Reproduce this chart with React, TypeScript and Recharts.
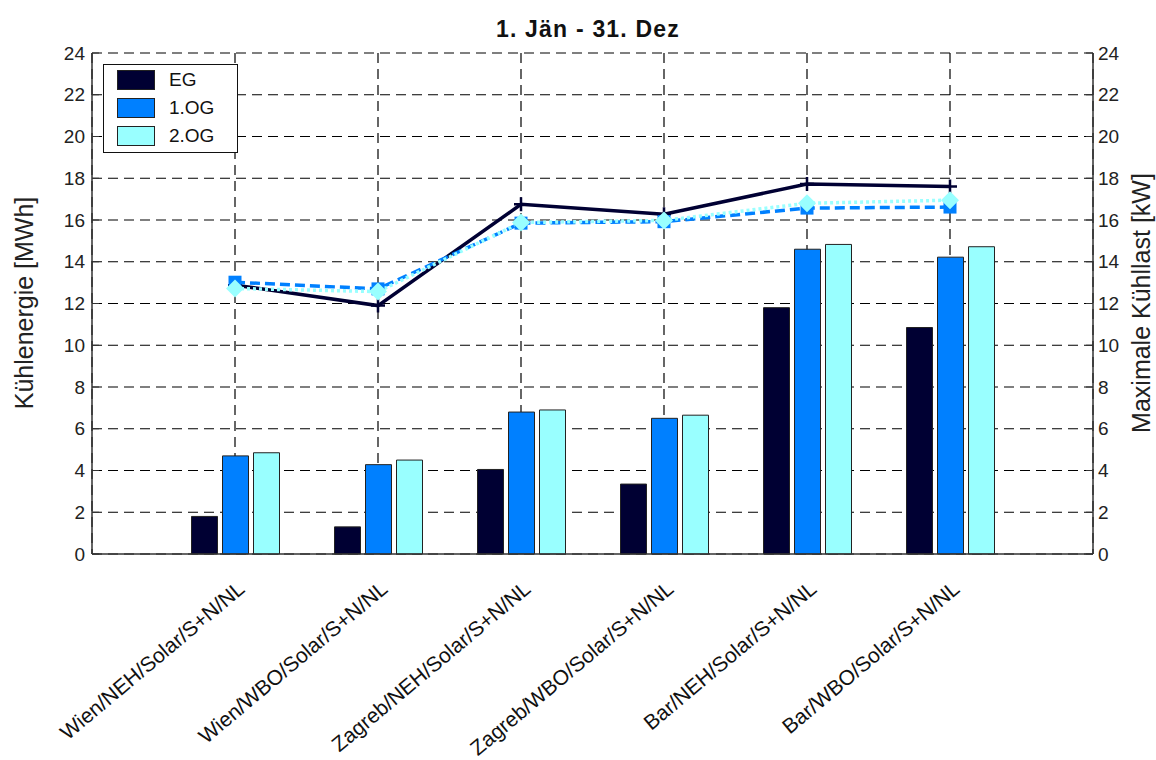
import React from "react";
import { Bar, CartesianGrid, ComposedChart, Legend, Line, XAxis, YAxis } from "recharts";

const categories = [
  "Wien/NEH/Solar/S+N/NL",
  "Wien/WBO/Solar/S+N/NL",
  "Zagreb/NEH/Solar/S+N/NL",
  "Zagreb/WBO/Solar/S+N/NL",
  "Bar/NEH/Solar/S+N/NL",
  "Bar/WBO/Solar/S+N/NL",
];

// Kühlenergie [MWh] (bars, left axis)
const egEnergy = [1.8, 1.3, 4.05, 3.35, 11.8, 10.85];
const og1Energy = [4.7, 4.28, 6.8, 6.5, 14.6, 14.22];
const og2Energy = [4.85, 4.5, 6.9, 6.65, 14.83, 14.72];

// Maximale Kühllast [kW] (lines, right axis)
const egLoad = [12.88, 11.9, 16.75, 16.28, 17.72, 17.6];
const og1Load = [13.02, 12.7, 15.85, 15.92, 16.57, 16.62];
const og2Load = [12.72, 12.57, 15.88, 15.98, 16.8, 16.95];

const yTicks = [0, 2, 4, 6, 8, 10, 12, 14, 16, 18, 20, 22, 24];

const C_EG = "#000033";
const C_OG1 = "#0080ff";
const C_OG2 = "#99ffff";
const FONT = '"Liberation Sans", Arial, Helvetica, sans-serif';

const data = categories.map((name, i) => ({
  name,
  egE: egEnergy[i],
  og1E: og1Energy[i],
  og2E: og2Energy[i],
  egL: egLoad[i],
  og1L: og1Load[i],
  og2L: og2Load[i],
}));

const legendItems = [
  { name: "EG", color: C_EG },
  { name: "1.OG", color: C_OG1 },
  { name: "2.OG", color: C_OG2 },
];

function LegendBox() {
  return (
    <div
      style={{
        width: 135,
        height: 89,
        boxSizing: "border-box",
        border: "1px solid #111",
        background: "#fff",
        position: "relative",
        fontFamily: FONT,
      }}
    >
      {legendItems.map((it, i) => (
        <div key={it.name} style={{ position: "absolute", left: 13, top: 5 + i * 28, height: 20, display: "flex", alignItems: "center" }}>
          <span style={{ width: 38, height: 20, boxSizing: "border-box", border: "1px solid #222", background: it.color, display: "inline-block" }} />
          <span style={{ marginLeft: 14, fontSize: 19, color: "#111", lineHeight: "20px" }}>{it.name}</span>
        </div>
      ))}
    </div>
  );
}

function XTick({ x, y, payload }: any) {
  return (
    <text
      transform={`translate(${x + 11},${y + 37}) rotate(-40)`}
      textAnchor="end"
      fontSize={21}
      fill="#111"
      fontFamily={FONT}
    >
      {payload.value}
    </text>
  );
}

const PlusDot = ({ cx, cy }: any) => (
  <path d={`M${cx - 7},${cy}h14M${cx},${cy - 7}v14`} stroke={C_EG} strokeWidth={2.5} fill="none" />
);
const SquareDot = ({ cx, cy }: any) => <rect x={cx - 6.5} y={cy - 6.5} width={13} height={13} fill={C_OG1} />;
const DiamondDot = ({ cx, cy }: any) => (
  <path d={`M${cx},${cy - 9}L${cx + 9},${cy}L${cx},${cy + 9}L${cx - 9},${cy}Z`} fill={C_OG2} />
);

const axisLine = { stroke: "#333", strokeWidth: 1.5 };
const tickStyle = { fill: "#222", fontSize: 19, fontFamily: FONT };

export default function App() {
  return (
    <div style={{ position: "absolute", left: 0, top: 0, width: 1156, height: 760, background: "#fff" }}>
      <ComposedChart
        width={1156}
        height={760}
        data={data}
        margin={{ top: 53, right: 8, bottom: 6, left: 12 }}
        barSize={26}
        barGap={5}
      >
        <CartesianGrid xAxisId="b" yAxisId="l" stroke="#000" strokeWidth={1.2} strokeDasharray="10 6" />
        <XAxis
          xAxisId="b"
          dataKey="name"
          height={200}
          interval={0}
          padding={{ left: 71.5, right: 71.5 }}
          tickLine={false}
          tickSize={0}
          tickMargin={0}
          axisLine={axisLine}
          tick={<XTick />}
        />
        <XAxis
          xAxisId="t"
          orientation="top"
          dataKey="name"
          height={0}
          interval={0}
          padding={{ left: 71.5, right: 71.5 }}
          tick={false}
          tickSize={-7}
          tickLine={{ stroke: "#333" }}
          axisLine={axisLine}
        />
        <YAxis
          yAxisId="l"
          domain={[0, 24]}
          ticks={yTicks}
          width={80}
          tickSize={-7}
          tickMargin={14}
          tickLine={{ stroke: "#333" }}
          axisLine={axisLine}
          tick={tickStyle}
        />
        <YAxis
          yAxisId="r"
          orientation="right"
          domain={[0, 24]}
          ticks={yTicks}
          width={55}
          tickSize={-7}
          tickMargin={12}
          tickLine={{ stroke: "#333" }}
          axisLine={axisLine}
          tick={tickStyle}
        />
        <Bar xAxisId="b" yAxisId="l" dataKey="egE" name="EG" fill={C_EG} stroke="#222" isAnimationActive={false} />
        <Bar xAxisId="b" yAxisId="l" dataKey="og1E" name="1.OG" fill={C_OG1} stroke="#222" isAnimationActive={false} />
        <Bar xAxisId="b" yAxisId="l" dataKey="og2E" name="2.OG" fill={C_OG2} stroke="#222" isAnimationActive={false} />
        <Line xAxisId="b" yAxisId="r" dataKey="egL" stroke={C_EG} strokeWidth={3.5} dot={<PlusDot />} activeDot={false} isAnimationActive={false} />
        <Line xAxisId="b" yAxisId="r" dataKey="og1L" stroke={C_OG1} strokeWidth={3.5} strokeDasharray="10 5" dot={<SquareDot />} activeDot={false} isAnimationActive={false} />
        <Line xAxisId="b" yAxisId="r" dataKey="og2L" stroke={C_OG2} strokeWidth={3.5} strokeDasharray="3 3" dot={<DiamondDot />} activeDot={false} isAnimationActive={false} />
        <Legend
          layout="vertical"
          align="center"
          verticalAlign="middle"
          wrapperStyle={{ left: 103, top: 64, width: "auto", height: "auto" }}
          content={<LegendBox />}
        />
      </ComposedChart>
      <svg width={1156} height={760} style={{ position: "absolute", left: 0, top: 0, pointerEvents: "none" }}>
        <text x={588} y={37} textAnchor="middle" fontSize={23} fontWeight="bold" letterSpacing={1.2} fill="#111" fontFamily={FONT}>
          1. Jän - 31. Dez
        </text>
        <text transform="translate(33,303) rotate(-90)" textAnchor="middle" fontSize={25} fill="#222" fontFamily={FONT}>
          Kühlenergie [MWh]
        </text>
        <text transform="translate(1150,303) rotate(-90)" textAnchor="middle" fontSize={25} fill="#222" fontFamily={FONT}>
          Maximale Kühllast [kW]
        </text>
      </svg>
    </div>
  );
}
